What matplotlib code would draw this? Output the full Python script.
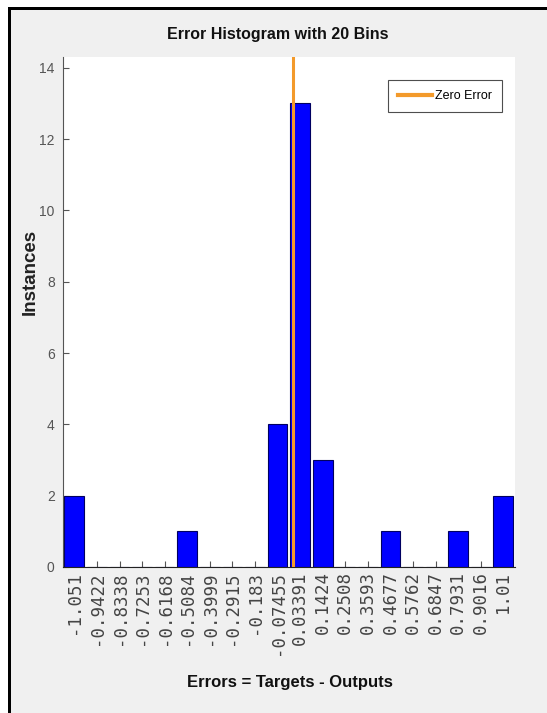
import matplotlib
matplotlib.use("Agg")
import matplotlib.pyplot as plt
from matplotlib.patches import Rectangle
import numpy as np

bin_labels = ["-1.051", "-0.9422", "-0.8338", "-0.7253", "-0.6168", "-0.5084",
              "-0.3999", "-0.2915", "-0.183", "-0.07455", "0.03391", "0.1424",
              "0.2508", "0.3593", "0.4677", "0.5762", "0.6847", "0.7931",
              "0.9016", "1.01"]
bin_centers = [float(s) for s in bin_labels]
counts = [2, 0, 0, 0, 0, 1, 0, 0, 0, 4, 13, 3, 0, 0, 1, 0, 0, 1, 0, 2]
zero_error = 0.0

sans = "Liberation Sans"

fig = plt.figure(figsize=(5.47, 7.13), dpi=100)
fig.patch.set_facecolor("white")
W, H = 547.0, 713.0
fig.patches.append(Rectangle((8 / W, 0), 1, 1 - 7 / H, transform=fig.transFigure,
                             facecolor="black", edgecolor="none", zorder=-10))
fig.patches.append(Rectangle((11 / W, 0), 1, 1 - 10 / H, transform=fig.transFigure,
                             facecolor="#f0f0f0", edgecolor="none", zorder=-9))

ax = fig.add_axes([63 / W, 1 - 567 / H, (514.6 - 63) / W, (567 - 57) / H])
ax.set_facecolor("white")

bw = (bin_centers[-1] - bin_centers[0]) / (len(bin_centers) - 1)
ax.bar(bin_centers, counts, width=bw * 0.87, color="#0000ff", edgecolor="#000060",
       linewidth=0.8, zorder=2)
ymax = max(counts) * 1.1
ax.plot([zero_error, zero_error], [0, ymax], color="#f39a2b", linewidth=2.2,
        label="Zero Error", zorder=3)

ax.set_xlim(bin_centers[0] - bw / 2, bin_centers[-1] + bw / 2)
ax.set_ylim(0, ymax)
ax.set_xticks(bin_centers)
ax.set_xticklabels(bin_labels, rotation=90, fontsize=12.5, family="DejaVu Sans Mono",
                   color="#444444")
ax.set_yticks(np.arange(0, 15, 2))
ax.set_yticklabels([str(v) for v in range(0, 15, 2)], fontsize=10, family=sans,
                   color="#444444")
ax.tick_params(direction="in", length=4, width=0.8, colors="#555555")
ax.tick_params(axis="x", labelcolor="#444444", pad=3)
ax.tick_params(axis="y", labelcolor="#555555", pad=6)
for s in ["top", "right"]:
    ax.spines[s].set_visible(False)
ax.spines["left"].set_color("#555555")
ax.spines["bottom"].set_color("#222222")

fig.text(278 / W, 1 - 34 / H, "Error Histogram with 20 Bins", ha="center", va="center",
         fontsize=11.5, fontweight="bold", family=sans, color="#111111")
fig.text(290 / W, 1 - 683 / H, "Errors = Targets - Outputs", ha="center", va="center",
         fontsize=12, fontweight="bold", family=sans, color="#111111")
fig.text(30 / W, 1 - 272 / H, "Instances", ha="center", va="center", rotation=90,
         fontsize=13.5, fontweight="bold", family=sans, color="#222222")

leg = ax.legend(loc="upper right", bbox_to_anchor=(502 / W, 1 - 80 / H),
                bbox_transform=fig.transFigure, prop={"family": sans, "size": 9},
                frameon=True, fancybox=False, handlelength=2.7, handletextpad=0.25,
                borderpad=0.8, borderaxespad=0)
leg.get_frame().set_edgecolor("#222222")
leg.get_frame().set_linewidth(0.8)
for l in leg.get_lines():
    l.set_linewidth(3)

fig.savefig("out.png", dpi=100)
